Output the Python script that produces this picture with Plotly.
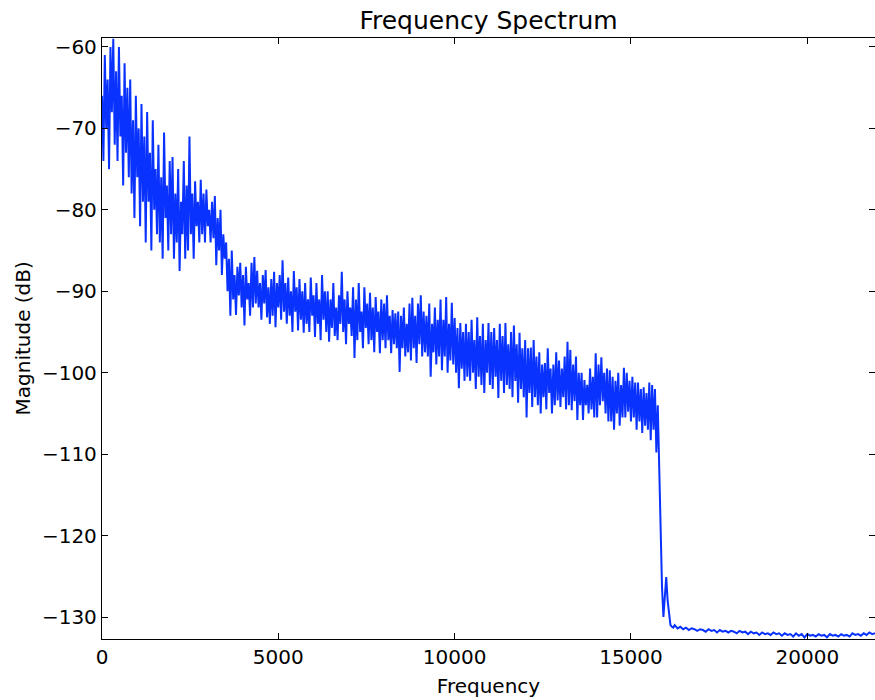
import numpy as np
import plotly.graph_objects as go

# passband + cut-off edge, one value every 40 Hz (0 .. 16200 Hz)
band_step_hz = 40
mag_band_db = [
    -66, -74, -61, -70, -64, -75, -60, -68, -59, -72,
    -63, -74, -60, -71, -66, -77, -62, -73, -65, -76,
    -64, -78, -69, -81, -66, -76, -70, -82, -67, -79,
    -71, -84, -68, -79, -73, -85, -69, -80, -75, -83,
    -72, -84, -76, -86, -70.5, -81, -77, -85, -74, -83,
    -73.5, -86, -78, -84, -75, -87.5, -79, -83, -74, -86,
    -77, -85, -71, -83, -78, -86, -76.5, -82, -79, -84,
    -76.3, -83, -78, -84, -77.5, -82, -80, -84, -79, -83.5,
    -78.3, -86.8, -81, -85, -80, -88, -83, -86, -84, -90,
    -86, -93, -85, -91, -88, -92.9, -87, -90.5, -86.5, -92,
    -88, -94.2, -87, -91, -89, -93, -86.5, -92, -85.8, -91.5,
    -87.5, -92, -89, -93.5, -88, -91.5, -87.4, -93.2, -89.5, -94,
    -88.5, -93, -87.6, -94.4, -89, -92, -88, -93.5, -86.2, -92.5,
    -89, -94, -88.3, -93, -90, -95, -87.5, -92.5, -89.5, -94.8,
    -88.5, -93.5, -90, -95.1, -89, -94, -91, -95, -88.3, -93,
    -90.5, -95.6, -89, -94, -91, -96, -88, -93.5, -90, -95,
    -90, -96.2, -91, -94.5, -89, -95.5, -92, -96, -90.5, -94,
    -87.6, -95, -91, -96.5, -90, -94, -92, -95.5, -89.5, -98.2,
    -91, -96, -89, -95, -92.5, -97, -89.5, -94.5, -91.5, -96.5,
    -90.2, -96, -92, -97.5, -90.7, -95, -92.5, -97.6, -91, -96,
    -91.5, -97, -90.5, -96, -93, -97.6, -92.3, -96.5, -92.7, -97,
    -92.5, -99.9, -93, -97, -92, -98, -94, -97.5, -91.5, -98.5,
    -90.8, -97, -93, -98.8, -91.5, -96.5, -90.5, -98, -92.5, -97.5,
    -93, -98, -91.5, -100.5, -94, -97.5, -92, -99, -93.5, -98,
    -91, -99.7, -93.5, -98, -90.7, -100, -94, -98.5, -91.4, -99,
    -93.3, -100, -94.5, -101.9, -93.9, -99.5, -95, -101, -94, -100.5,
    -95, -101, -93.5, -100, -96, -102, -93.2, -100.5, -95.5, -101.5,
    -94, -102.5, -96, -100, -93.9, -101.5, -95, -102, -94.5, -100.5,
    -96, -103.1, -94, -101, -95.5, -102.5, -93.9, -101.5, -96.5, -102,
    -95, -103, -94.2, -101, -96.5, -103.7, -95.1, -102, -97, -103,
    -96, -105.5, -97, -102.5, -96.9, -104.2, -96, -103, -98, -104,
    -97.5, -105, -99, -103, -98.8, -104.5, -97, -102.5, -99.5, -105,
    -99, -104, -97.5, -103.4, -98.5, -104.2, -99.5, -103, -98, -104.5,
    -96.2, -104, -97.2, -104.6, -99, -103.5, -98, -105.8, -100, -104,
    -100, -105.8, -100.9, -104, -101.5, -105, -99.5, -104.5, -100.5, -105.5,
    -97.6, -105.5, -99, -104, -98.1, -103.5, -100, -105, -99.5, -106,
    -99.7, -106, -100.5, -107, -101, -105, -100, -106.5, -101.5, -105.5,
    -99.4, -105.5, -100, -104.8, -101, -106, -100.5, -105.5, -101.2, -107,
    -101.2, -106, -102, -107.4, -101.8, -106.5, -102.5, -107, -101.2, -108.3,
    -101.5, -107, -102, -109.8, -104,
    # cut-off edge and its small ripple
    -112, -121, -126.3, -130, -127, -125.1, -128, -129.2, -131, -131.2, -131.3,
]

# stop band floor, one value every 80 Hz from 16240 Hz
tail_start_hz = 16240
tail_step_hz = 80
mag_tail_db = [
    -131.0, -131.4, -131.2, -131.5, -131.3, -131.6, -131.4, -131.5, -131.7, -131.5,
    -131.6, -131.8, -131.5, -131.7, -131.6, -131.9, -131.6, -131.8, -131.7, -131.9,
    -131.7, -131.8, -132.0, -131.7, -131.9, -131.8, -132.1, -131.8, -132.0, -131.9,
    -132.2, -131.9, -132.1, -132.0, -132.2, -131.9, -132.1, -132.0, -132.3, -132.0,
    -132.2, -132.1, -132.4, -132.0, -132.3, -132.1, -132.5, -132.1, -132.3, -132.2,
    -132.4, -132.1, -132.3, -132.2, -132.5, -132.1, -132.3, -132.2, -132.4, -132.1,
    -132.3, -132.2, -132.4, -132.0, -132.2, -132.1, -132.3, -132.0, -132.2, -131.9,
    -132.1, -132.0,
]

y_ticks = [-60, -70, -80, -90, -100, -110, -120, -130]
x_ticks = [0, 5000, 10000, 15000, 20000]
x_tick_text = ['0', '5000', '10000', '15000', '20000']

freq = np.concatenate([np.arange(len(mag_band_db)) * band_step_hz,
                       tail_start_hz + np.arange(len(mag_tail_db)) * tail_step_hz])
mag_db = np.array(mag_band_db + mag_tail_db)

fig = go.Figure()
fig.add_trace(go.Scatter(x=freq, y=mag_db, mode='lines',
                         line=dict(color='#0a32ff', width=2),
                         showlegend=False))

axis_common = dict(showline=True, linecolor='black', linewidth=1.3,
                   mirror='allticks', ticks='inside', ticklen=6,
                   tickcolor='black', showgrid=False, zeroline=False,
                   automargin=False)

fig.update_layout(
    width=875, height=700,
    margin=dict(l=102, r=0, t=38, b=61),
    paper_bgcolor='white', plot_bgcolor='white',
    font=dict(family='DejaVu Sans', size=20, color='black'),
    title=dict(text='Frequency Spectrum', x=0.5, xref='paper',
               y=1 - 20 / 700, yref='container', yanchor='middle',
               font=dict(size=25)),
    xaxis=dict(title=dict(text='Frequency', standoff=10, font=dict(size=20)),
               range=[0, freq[-1]], tickvals=x_ticks, ticktext=x_tick_text,
               **axis_common),
    yaxis=dict(range=[-132.7, -58.9], tickvals=y_ticks, **axis_common),
)

# y label as a rotated annotation so it sits where the reference has it
fig.add_annotation(text='Magnitude (dB)', textangle=-90, showarrow=False,
                   xref='paper', yref='paper', x=-80 / 773, y=0.5,
                   xanchor='center', yanchor='middle', font=dict(size=20))

# drop the default page margin so the figure sits flush in the window
fig.write_html("out.html", config={'displayModeBar': False},
               post_script="document.body.style.margin='0';document.body.style.overflow='hidden';")
